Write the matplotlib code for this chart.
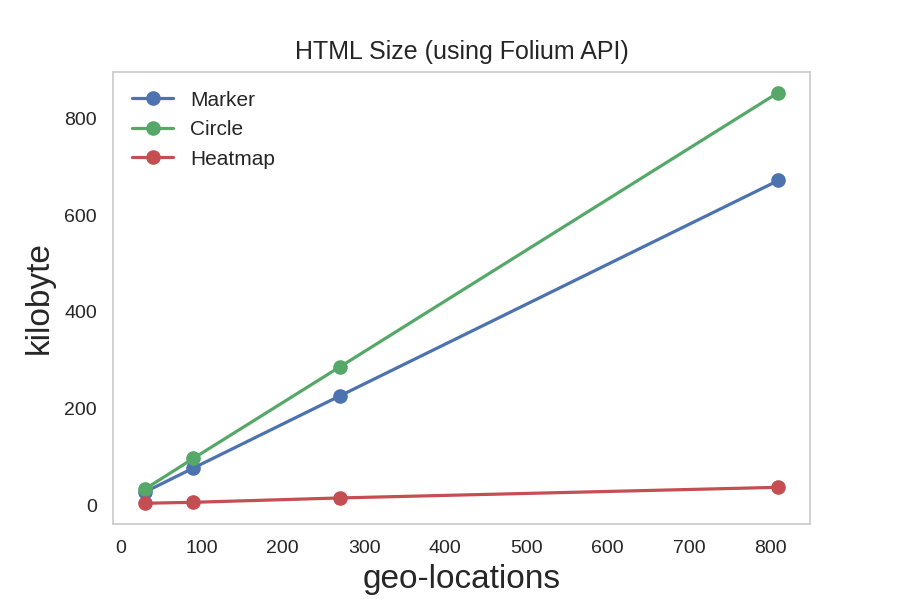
import numpy as np
import matplotlib
matplotlib.use("Agg")
import matplotlib.pyplot as plt
import seaborn as sns

# geo-locations vs HTML size (kilobyte)
locations = [30, 90, 270, 810]
marker_kb = [27, 77, 226, 672]
circle_kb = [33, 97, 286, 854]
heatmap_kb = [4, 6, 15, 37]

sns.set_style("whitegrid")
plt.rcParams['font.family'] = ['Liberation Sans', 'DejaVu Sans']

fig, ax = plt.subplots(figsize=(9, 6), dpi=100)
fig.subplots_adjust(left=0.1256, right=0.9, top=0.88, bottom=0.127)

ax.plot(locations, marker_kb, "-o", color="#4C72B0", lw=2.3, ms=9.5, label="Marker")
ax.plot(locations, circle_kb, "-o", color="#55A868", lw=2.3, ms=9.5, label="Circle")
ax.plot(locations, heatmap_kb, "-o", color="#C44E52", lw=2.3, ms=9.5, label="Heatmap")

ax.grid(False)
for s in ax.spines.values():
    s.set_color("#cccccc")
    s.set_linewidth(1.25)
ax.set_xticks(np.arange(0, 900, 100))
ax.tick_params(labelsize=14, colors="#262626", pad=8)
ax.set_title("HTML Size (using Folium API)", fontsize=18, color="#262626", pad=9.5)
ax.set_xlabel("geo-locations", fontsize=24, color="#262626", labelpad=5)
ax.set_ylabel("kilobyte", fontsize=24, color="#262626", labelpad=7)
ax.legend(loc="upper left", fontsize=15, frameon=False)

fig.savefig("out.png", dpi=100)
